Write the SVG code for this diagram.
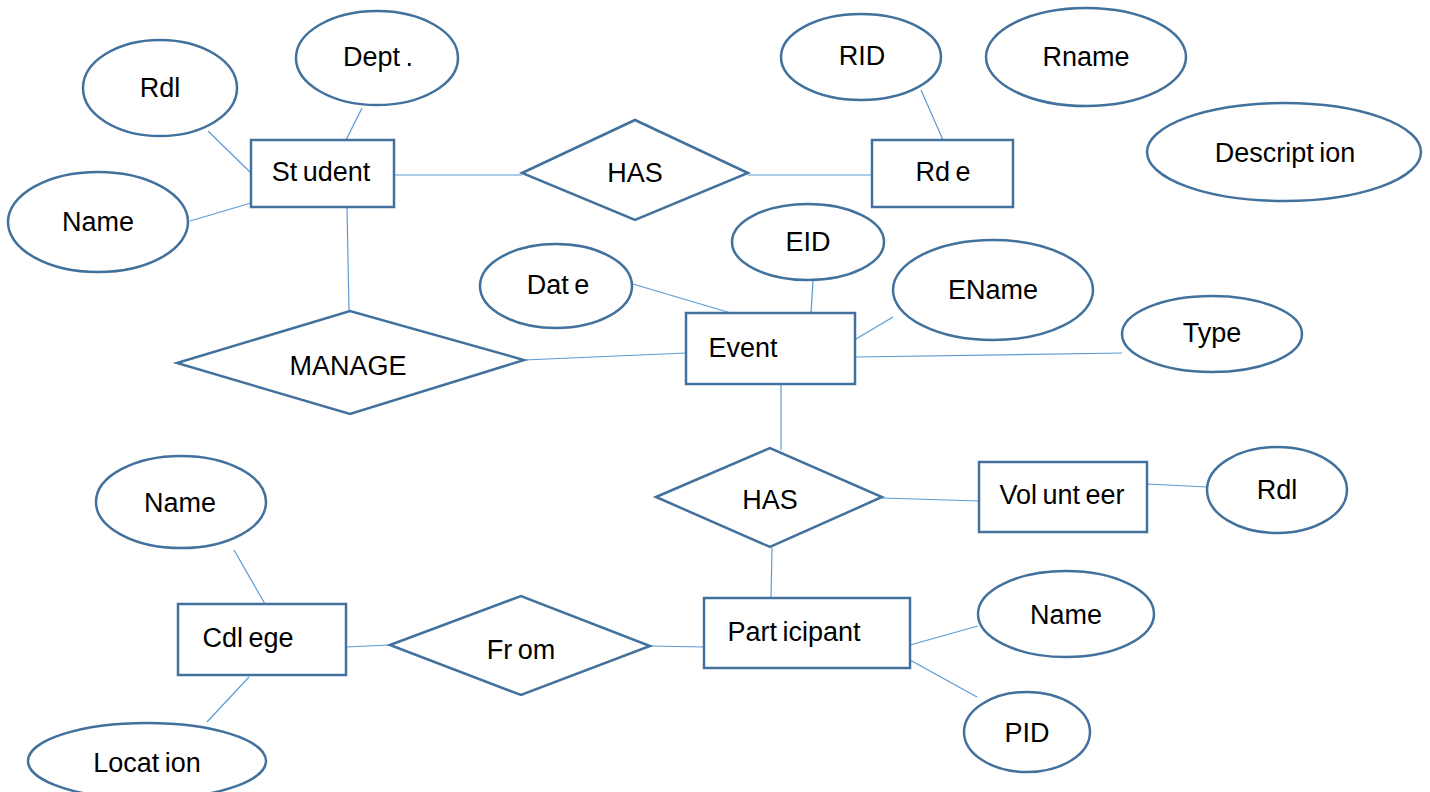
<svg xmlns="http://www.w3.org/2000/svg" width="1430" height="792" viewBox="0 0 1430 792">
<style>
.s{fill:#fff;stroke:#41719C;stroke-width:2.5}
.c line{stroke:#5B9BD5;stroke-width:1.2}
text{font-family:"Liberation Sans",Arial,sans-serif;font-size:27px;word-spacing:-2px;fill:#000;text-anchor:middle;dominant-baseline:central}
</style>
<rect width="1430" height="792" fill="#fff"/>
<g class="c" id="connectors">
<line x1="208" y1="131" x2="251" y2="173"/>
<line x1="362" y1="108" x2="346" y2="140"/>
<line x1="190" y1="221" x2="251" y2="203"/>
<line x1="394" y1="175" x2="522" y2="175"/>
<line x1="748" y1="175" x2="872" y2="175"/>
<line x1="921" y1="90" x2="943" y2="140"/>
<line x1="347" y1="207" x2="349" y2="311"/>
<line x1="524" y1="360" x2="686" y2="353"/>
<line x1="626" y1="282" x2="731" y2="313"/>
<line x1="813" y1="281" x2="811" y2="313"/>
<line x1="893" y1="317" x2="856" y2="339"/>
<line x1="856" y1="357" x2="1122" y2="353"/>
<line x1="781" y1="384" x2="781" y2="450"/>
<line x1="882" y1="498" x2="979" y2="501"/>
<line x1="1147" y1="484" x2="1207" y2="487"/>
<line x1="772" y1="548" x2="771" y2="598"/>
<line x1="910" y1="645" x2="978" y2="626"/>
<line x1="910" y1="660" x2="977" y2="697"/>
<line x1="346" y1="647" x2="390" y2="645"/>
<line x1="650" y1="646" x2="704" y2="647"/>
<line x1="234" y1="550" x2="265" y2="604"/>
<line x1="249" y1="677" x2="207" y2="722"/>
</g>
<g id="student"><rect class="s" x="251" y="140" width="143" height="67"/><text x="321" y="172">St udent</text></g>
<g id="student-roll"><ellipse class="s" cx="160" cy="88" rx="77" ry="48"/><text x="160" y="88">Rdl</text></g>
<g id="student-dept"><ellipse class="s" cx="377" cy="58" rx="81" ry="47"/><text x="378" y="57">Dept .</text></g>
<g id="student-name"><ellipse class="s" cx="98" cy="222" rx="90" ry="50"/><text x="98" y="222">Name</text></g>
<g id="has1"><polygon class="s" points="522,173 635,120 748,173 635,220"/><text x="635" y="173">HAS</text></g>
<g id="role"><rect class="s" x="872" y="140" width="141" height="67"/><text x="943" y="172">Rd e</text></g>
<g id="rid"><ellipse class="s" cx="861" cy="57" rx="80" ry="43"/><text x="862" y="56">RID</text></g>
<g id="rname"><ellipse class="s" cx="1086" cy="57" rx="100" ry="49"/><text x="1086" y="57">Rname</text></g>
<g id="description"><ellipse class="s" cx="1284" cy="152" rx="137" ry="49"/><text x="1285" y="153">Descript ion</text></g>
<g id="eid"><ellipse class="s" cx="808" cy="242" rx="76" ry="38"/><text x="808" y="242">EID</text></g>
<g id="date"><ellipse class="s" cx="556" cy="286" rx="76" ry="42"/><text x="558" y="285">Dat e</text></g>
<g id="ename"><ellipse class="s" cx="993" cy="290" rx="100" ry="50"/><text x="993" y="290">EName</text></g>
<g id="type"><ellipse class="s" cx="1212" cy="334" rx="90" ry="38"/><text x="1212" y="333">Type</text></g>
<g id="event"><rect class="s" x="686" y="313" width="169" height="71"/><text x="743" y="348">Event</text></g>
<g id="manage"><polygon class="s" points="177,363 350,311 524,360 350,414"/><text x="348" y="366">MANAGE</text></g>
<g id="has2"><polygon class="s" points="656,497 770,448 882,497 770,547"/><text x="770" y="500">HAS</text></g>
<g id="volunteer"><rect class="s" x="979" y="462" width="168" height="70"/><text x="1062" y="495">Vol unt eer</text></g>
<g id="volunteer-roll"><ellipse class="s" cx="1277" cy="490" rx="70" ry="43"/><text x="1277" y="490">Rdl</text></g>
<g id="participant"><rect class="s" x="704" y="598" width="206" height="70"/><text x="794" y="632">Part icipant</text></g>
<g id="participant-name"><ellipse class="s" cx="1066" cy="614" rx="88" ry="43"/><text x="1066" y="615">Name</text></g>
<g id="pid"><ellipse class="s" cx="1027" cy="732" rx="63" ry="40"/><text x="1027" y="733">PID</text></g>
<g id="from"><polygon class="s" points="390,645 521,596 650,646 521,695"/><text x="521" y="650">Fr om</text></g>
<g id="college"><rect class="s" x="178" y="604" width="168" height="71"/><text x="248" y="638">Cdl ege</text></g>
<g id="college-name"><ellipse class="s" cx="181" cy="502" rx="85" ry="46"/><text x="180" y="503">Name</text></g>
<g id="location"><ellipse class="s" cx="147" cy="761" rx="119" ry="38"/><text x="147" y="763">Locat ion</text></g>
</svg>
